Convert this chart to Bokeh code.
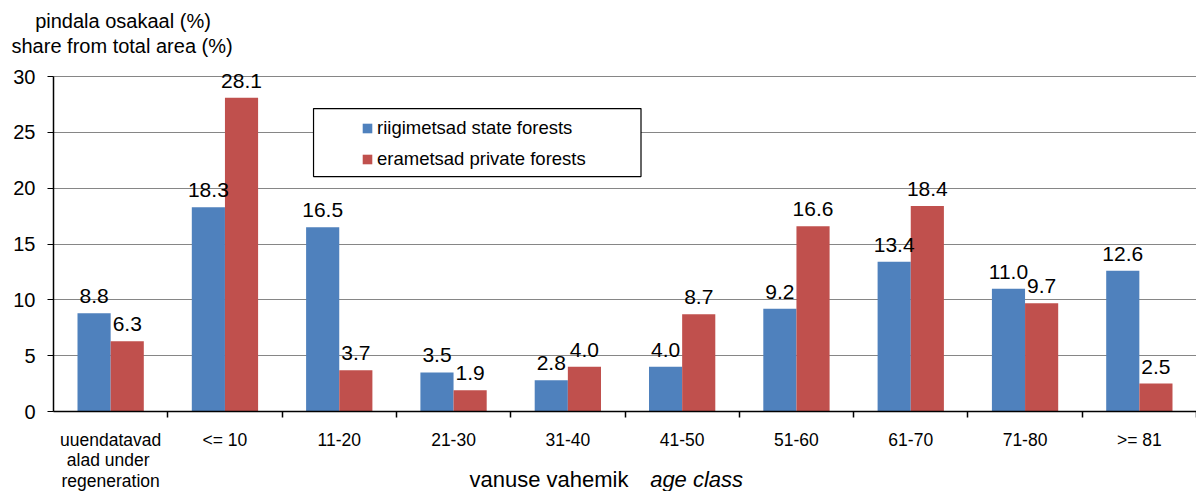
from bokeh.plotting import figure
from bokeh.models import (ColumnDataSource, Range1d, FixedTicker, Legend, LegendItem,
                          LabelSet, Label, BoxAnnotation)
from bokeh.core.properties import value
from bokeh.transform import dodge
from bokeh.embed import file_html
from bokeh.resources import INLINE

categories = ["uuendatavad\nalad  under\nregeneration", "<= 10", "11-20", "21-30", "31-40",
              "41-50", "51-60", "61-70", "71-80", ">= 81"]
state_forests = [8.8, 18.3, 16.5, 3.5, 2.8, 4.0, 9.2, 13.4, 11.0, 12.6]
private_forests = [6.3, 28.1, 3.7, 1.9, 4.0, 8.7, 16.6, 18.4, 9.7, 2.5]
y_ticks = [0, 5, 10, 15, 20, 25, 30]

FONT = "Liberation Sans"
BLUE = "#4F81BD"
RED = "#C0504D"

n = len(categories)
centers = [i + 0.5 for i in range(n)]
src = ColumnDataSource(dict(
    x=centers,
    state=state_forests,
    private=private_forests,
    state_txt=[f"{v:.1f}" for v in state_forests],
    private_txt=[f"{v:.1f}" for v in private_forests],
))

W, H = 1196, 491
PX_Y = 335 / 30.0                 # pixels per y unit
PX_X = (W - 53) / n               # pixels per category
X_MIN = -53 / PX_X
Y_MAX = 30 + 76 / PX_Y
Y_MIN = -(H - 411) / PX_Y

p = figure(width=W, height=H, x_range=Range1d(X_MIN, n), y_range=Range1d(Y_MIN, Y_MAX),
           output_backend="svg", toolbar_location=None,
           min_border_left=0, min_border_right=0, min_border_top=0, min_border_bottom=0)
p.outline_line_color = None
p.background_fill_color = "white"

# grid lines only over the plot area
p.xgrid.visible = False
if "cross_bounds" in p.ygrid[0].properties():
    p.ygrid.cross_bounds = (0, n)
    p.ygrid.grid_line_color = "#868686"
    p.ygrid.grid_line_width = 1
else:
    p.ygrid.visible = False
    p.segment(x0=[0] * len(y_ticks), x1=[n] * len(y_ticks), y0=y_ticks, y1=y_ticks,
              line_color="#868686", line_width=1)

bw = 0.29
r1 = p.vbar(x=dodge("x", -bw / 2), top="state", width=bw, source=src,
            fill_color=BLUE, line_color=None)
r2 = p.vbar(x=dodge("x", bw / 2), top="private", width=bw, source=src,
            fill_color=RED, line_color=None)

for col, txt, off in (("state", "state_txt", -bw / 2), ("private", "private_txt", bw / 2)):
    ls = LabelSet(x=dodge("x", off), y=col, text=txt, source=src,
                  text_align="center", text_baseline="alphabetic", y_offset=10,
                  text_font=value(FONT), text_font_size="21px", text_color="black")
    p.add_layout(ls)

p.yaxis.fixed_location = 0
p.yaxis.ticker = FixedTicker(ticks=y_ticks)
p.yaxis.bounds = (0, 30)
p.yaxis.major_tick_in = 0
p.yaxis.major_tick_out = 6
p.yaxis.minor_tick_line_color = None
p.yaxis.major_label_standoff = 12
p.yaxis.major_label_text_font = FONT
p.yaxis.major_label_text_font_size = "20px"
p.yaxis.major_label_text_color = "black"
p.yaxis.axis_line_color = "black"
p.yaxis.axis_line_width = 1.5

p.xaxis.fixed_location = 0
p.xaxis.bounds = (0, n)
p.xaxis.ticker = FixedTicker(ticks=centers, minor_ticks=list(range(1, n + 1)))
p.xaxis.major_label_overrides = {c: lab for c, lab in zip(centers, categories)}
p.xaxis.major_tick_in = 0
p.xaxis.major_tick_out = 0
p.xaxis.minor_tick_in = 0
p.xaxis.minor_tick_out = 6
p.xaxis.minor_tick_line_color = "black"
p.xaxis.minor_tick_line_width = 1.5
p.xaxis.major_label_standoff = 12
p.xaxis.major_label_text_font = FONT
p.xaxis.major_label_text_font_size = "17.5px"
p.xaxis.major_label_text_line_height = 1.04
p.xaxis.major_label_text_color = "black"
p.xaxis.axis_line_color = "black"
p.xaxis.axis_line_width = 1.5

# y axis title (two lines, top left)
p.add_layout(Label(x=0.608, y=35.0, text="pindala osakaal (%)", text_align="center",
                   text_baseline="middle", text_font=FONT, text_font_size="20px",
                   text_color="black"))
p.add_layout(Label(x=0.60, y=32.7, text="share from total area (%)", text_align="center",
                   text_baseline="middle", text_font=FONT, text_font_size="20px",
                   text_color="black"))

# x axis title
p.add_layout(Label(x=5.03, y=-6.1, text="vanuse vahemik", text_align="right",
                   text_baseline="middle", text_font=FONT, text_font_size="22px",
                   text_color="black"))
p.add_layout(Label(x=5.22, y=-6.1, text="age class", text_align="left",
                   text_baseline="middle", text_font=FONT, text_font_size="22px",
                   text_font_style="italic", text_color="black"))

# legend
p.add_layout(BoxAnnotation(left=2.275, right=5.14, bottom=21.04, top=27.13,
                           fill_color="white", fill_alpha=1, line_color="black",
                           line_alpha=1, line_width=1.2))
legend = Legend(items=[LegendItem(label="riigimetsad state forests", renderers=[r1]),
                       LegendItem(label="erametsad private forests", renderers=[r2])],
                location=(361, 321), border_line_color=None, background_fill_alpha=0,
                padding=5, spacing=9, glyph_width=12, glyph_height=12, label_height=20,
                label_standoff=4, label_text_font=FONT, label_text_font_size="18.5px",
                label_text_color="black", margin=0)
p.add_layout(legend, "center")

open("out.html", "w").write(file_html(p, INLINE))
